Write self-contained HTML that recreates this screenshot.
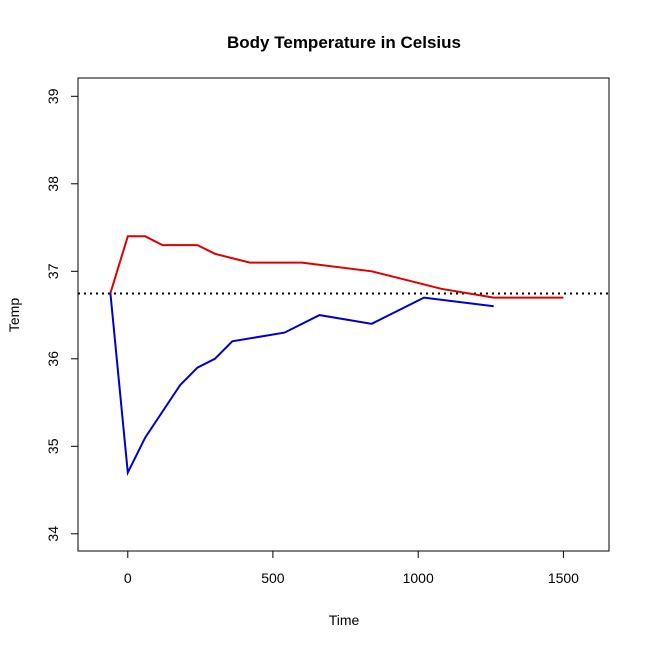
<!DOCTYPE html>
<html><head><style>body{margin:0;background:#fff}svg{display:block}</style></head>
<body>
<svg width="650" height="649" xmlns="http://www.w3.org/2000/svg" font-family="Liberation Sans, sans-serif">
<rect width="650" height="649" fill="#fff"/>
<text x="344" y="48" text-anchor="middle" font-weight="bold" font-size="17">Body Temperature in Celsius</text>
<rect x="78" y="78" width="531" height="473" fill="none" stroke="#000" stroke-width="1"/>
<g stroke="#000" stroke-width="1">
<line x1="127.8" y1="551" x2="127.8" y2="558"/>
<line x1="272.9" y1="551" x2="272.9" y2="558"/>
<line x1="418.2" y1="551" x2="418.2" y2="558"/>
<line x1="563.4" y1="551" x2="563.4" y2="558"/>
<line x1="78" y1="533.8" x2="71" y2="533.8"/>
<line x1="78" y1="446.3" x2="71" y2="446.3"/>
<line x1="78" y1="358.8" x2="71" y2="358.8"/>
<line x1="78" y1="271.3" x2="71" y2="271.3"/>
<line x1="78" y1="183.8" x2="71" y2="183.8"/>
<line x1="78" y1="96.3" x2="71" y2="96.3"/>
</g>
<g font-size="14" text-anchor="middle" fill="#000">
<text x="127.8" y="583">0</text>
<text x="272.9" y="583">500</text>
<text x="418.2" y="583">1000</text>
<text x="563.4" y="583">1500</text>
<text x="344" y="625">Time</text>
<text transform="translate(58,533.8) rotate(-90)">34</text>
<text transform="translate(58,446.3) rotate(-90)">35</text>
<text transform="translate(58,358.8) rotate(-90)">36</text>
<text transform="translate(58,271.3) rotate(-90)">37</text>
<text transform="translate(58,183.8) rotate(-90)">38</text>
<text transform="translate(58,96.3) rotate(-90)">39</text>
<text transform="translate(19,315) rotate(-90)">Temp</text>
</g>
<line x1="78" y1="293.5" x2="609" y2="293.5" stroke="#000" stroke-width="2" stroke-dasharray="2,4"/>
<polyline fill="none" stroke="#dd0000" stroke-width="2" points="110.4,293.2 127.8,236.3 145.2,236.3 162.6,245.1 197.5,245.1 214.9,253.8 249.8,262.6 302,262.6 371.7,271.3 441.4,288.8 493.7,297.6 563.4,297.6"/>
<polyline fill="none" stroke="#0000cc" stroke-width="2" points="110.4,293.2 127.8,472.6 145.2,437.6 180.1,385.1 197.5,367.6 214.9,358.8 232.3,341.3 284.6,332.6 319.5,315.1 371.7,323.8 424,297.6 493.7,306.3"/>
</svg>
</body></html>
